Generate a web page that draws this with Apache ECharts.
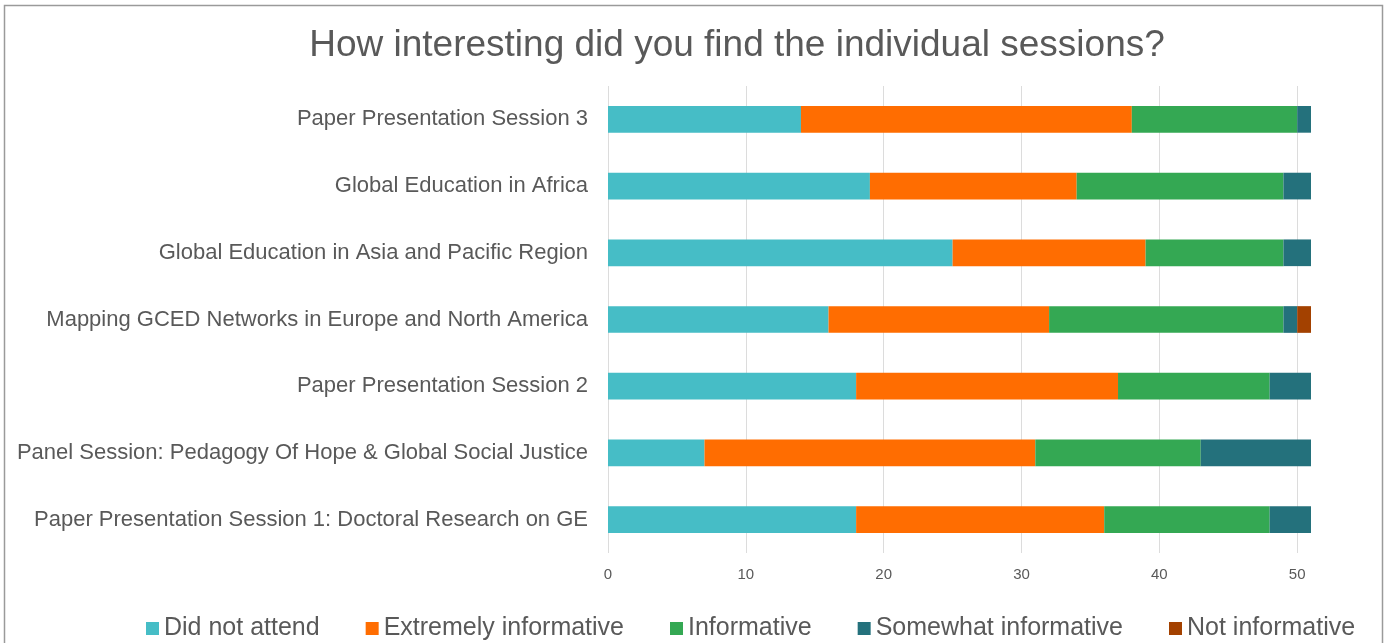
<!DOCTYPE html>
<html>
<head>
<meta charset="utf-8">
<script src="https://cdn.jsdelivr.net/npm/echarts@6/dist/echarts.min.js"></script>
<style>
  html, body { margin: 0; padding: 0; background: #ffffff; }
  #chart { width: 1389px; height: 643px; }
</style>
</head>
<body>
<div id="chart"></div>
<script>
// Sessions, listed bottom to top as they appear on the category axis
const sessions = [
  'Paper Presentation Session 1: Doctoral Research on GE',
  'Panel Session: Pedagogy Of Hope & Global Social Justice',
  'Paper Presentation Session 2',
  'Mapping GCED Networks in Europe and North America',
  'Global Education in Asia and Pacific Region',
  'Global Education in Africa',
  'Paper Presentation Session 3'
];

const seriesNames = ['Did not attend', 'Extremely informative', 'Informative', 'Somewhat informative', 'Not informative'];

// Response counts per session (same order as sessions)
const didNotAttend        = [18, 7, 18, 16, 25, 19, 14];
const extremelyInformative = [18, 24, 19, 16, 14, 15, 24];
const informative         = [12, 12, 11, 17, 10, 15, 12];
const somewhatInformative = [3, 8, 3, 1, 2, 2, 1];
const notInformative      = [0, 0, 0, 1, 0, 0, 0];

const xTicks = [0, 10, 20, 30, 40, 50];

const colors = ['#46bdc6', '#ff6d01', '#34a853', '#24717c', '#a34100'];
const values = [didNotAttend, extremelyInformative, informative, somewhatInformative, notInformative];

const chart = echarts.init(document.getElementById('chart'), null, { renderer: 'canvas' });

const gridColor = '#dcdcdc';
// one colour per split line: 0,10,...,50 visible, the end line at 51 hidden
const splitColors = xTicks.map(() => gridColor).concat(['rgba(0,0,0,0)']);

const font = 'Liberation Sans, Arial, sans-serif';

chart.setOption({
  backgroundColor: '#ffffff',
  animation: false,
  color: colors,
  title: {
    text: 'How interesting did you find the individual sessions?',
    left: 732,
    textAlign: 'center',
    top: 22,
    textStyle: {
      fontFamily: font,
      fontSize: 37,
      fontWeight: 'normal',
      color: '#595959'
    }
  },
  legend: {
    top: 611,
    left: 141,
    itemWidth: 13,
    itemHeight: 13,
    itemGap: 46,
    icon: 'rect',
    data: seriesNames,
    textStyle: {
      fontFamily: font,
      fontSize: 25,
      color: '#595959'
    }
  },
  grid: {
    left: 608,
    right: 78,
    top: 86,
    bottom: 90,
    containLabel: false
  },
  xAxis: {
    type: 'value',
    min: 0,
    max: 51,
    interval: 10,
    axisLine: { show: false },
    axisTick: { show: false },
    axisLabel: {
      showMaxLabel: false,
      color: '#595959',
      fontFamily: font,
      fontSize: 15,
      margin: 14
    },
    splitLine: {
      show: true,
      lineStyle: { color: splitColors, width: 1 }
    }
  },
  yAxis: {
    type: 'category',
    data: sessions,
    axisLine: { show: false },
    axisTick: { show: false },
    axisLabel: {
      color: '#595959',
      fontFamily: font,
      fontSize: 22,
      margin: 20
    }
  },
  series: seriesNames.map((name, i) => ({
    name: name,
    type: 'bar',
    stack: 'total',
    barWidth: '40%',
    data: values[i],
    itemStyle: { color: colors[i] }
  })),
  graphic: [
    {
      type: 'rect',
      shape: { x: 4.5, y: 5.5, width: 1378, height: 660 },
      style: { fill: 'none', stroke: '#9a9a9a', lineWidth: 1.5 },
      silent: true,
      z: 100
    }
  ]
});
</script>
</body>
</html>
